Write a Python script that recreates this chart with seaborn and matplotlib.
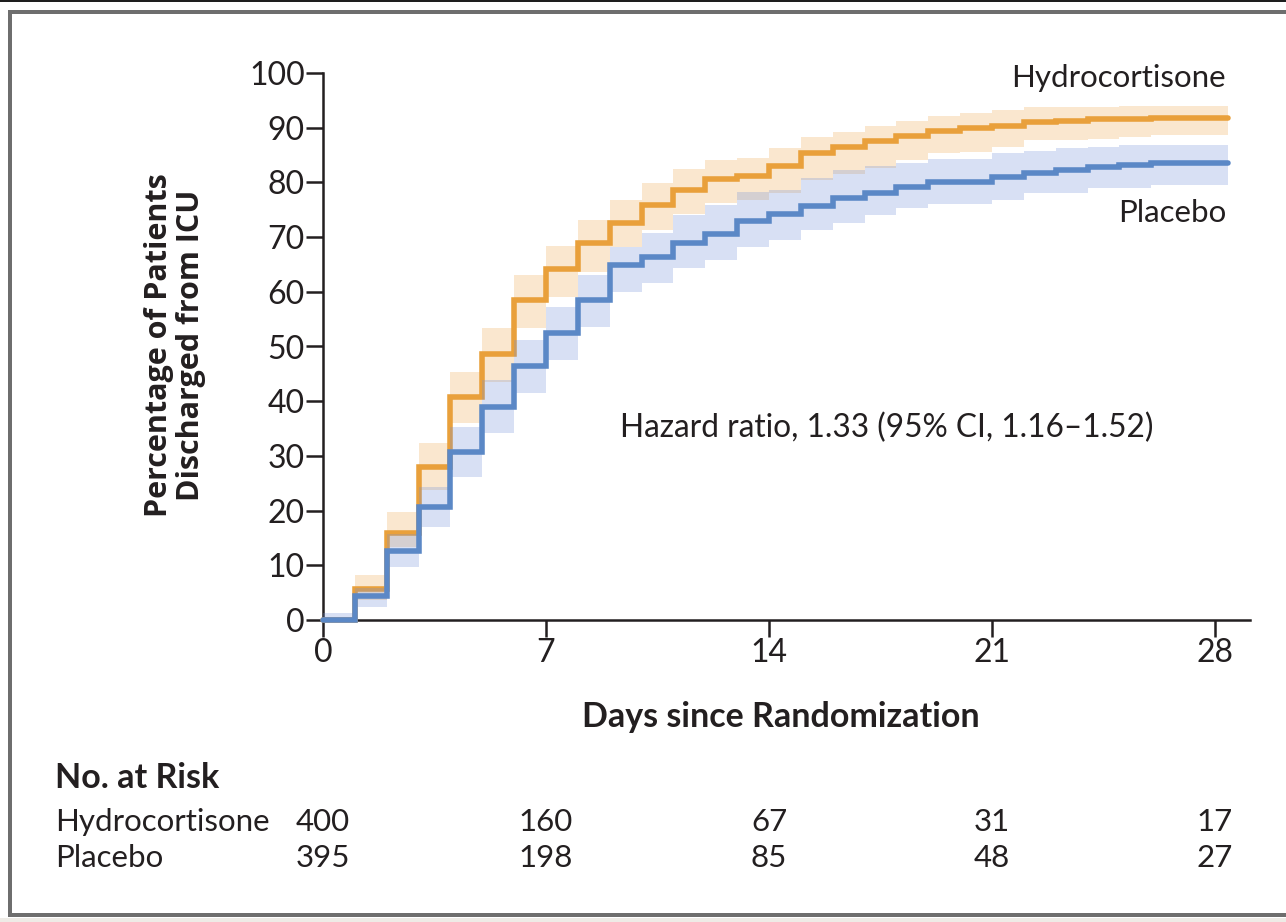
import numpy as np
import pandas as pd
import matplotlib
matplotlib.use("Agg")
import matplotlib.pyplot as plt
from matplotlib.patches import Rectangle
from matplotlib.transforms import blended_transform_factory
import seaborn as sns

# Cumulative percentage discharged from ICU, value held on [day, day + 1)
days = list(range(29))
hydro_pct = [0.0, 5.7, 15.9, 28.0, 40.8, 48.6, 58.5, 64.2, 68.9, 72.6,
             75.9, 78.7, 80.6, 81.1, 83.0, 85.3, 86.5, 87.6, 88.5, 89.4,
             89.9, 90.3, 91.0, 91.3, 91.5, 91.5, 91.7, 91.7, 91.7]
hydro_lo = [0.0, 3.6, 13.4, 23.8, 36.0, 43.5, 53.4, 59.1, 63.6, 68.2,
            71.3, 74.2, 76.2, 76.8, 78.0, 80.5, 81.5, 82.6, 84.1, 85.3,
            85.6, 86.5, 87.7, 87.7, 88.0, 88.3, 88.6, 88.6, 88.6]
hydro_hi = [0.5, 8.2, 19.7, 32.4, 45.3, 53.4, 63.1, 68.4, 73.1, 76.8,
            79.9, 82.4, 84.1, 84.5, 86.3, 88.3, 89.2, 90.3, 91.3, 92.1,
            92.6, 93.3, 93.7, 93.7, 93.7, 94.0, 94.0, 94.0, 94.0]

placebo_pct = [0.0, 4.3, 12.6, 20.7, 30.7, 39.0, 46.5, 52.4, 58.5, 64.9,
               66.4, 68.9, 70.6, 73.0, 74.3, 75.7, 77.1, 78.1, 79.2, 80.1,
               80.1, 81.0, 81.7, 82.3, 82.9, 83.2, 83.5, 83.5, 83.5]
placebo_lo = [0.0, 2.4, 9.7, 17.0, 26.1, 34.2, 41.5, 47.5, 53.6, 60.0,
              61.6, 64.3, 65.8, 68.2, 69.5, 71.3, 72.6, 74.0, 75.3, 76.0,
              76.0, 76.8, 78.1, 78.1, 79.0, 79.0, 79.5, 79.5, 79.5]
placebo_hi = [1.2, 5.8, 15.7, 24.3, 35.3, 43.9, 51.2, 57.2, 63.1, 68.2,
              70.7, 74.0, 75.9, 78.2, 78.6, 80.8, 82.3, 83.0, 83.6, 84.3,
              84.3, 85.3, 85.8, 86.2, 86.5, 86.8, 86.8, 86.8, 86.8]

last_day = 28.4  # follow-up end of the curves

x_ticks = [0, 7, 14, 21, 28]
y_ticks = list(range(0, 101, 10))

risk_days = [0, 7, 14, 21, 28]
risk_hydro = [400, 160, 67, 31, 17]
risk_placebo = [395, 198, 85, 48, 27]

ORANGE = "#E9A03B"
BLUE = "#5B88C6"
ORANGE_FILL = "#F0B060"
BLUE_FILL = "#7090D8"
INK = "#231F20"

sns.set_theme(style="white")
plt.rcParams["font.family"] = ["Lato", "DejaVu Sans"]
plt.rcParams["text.color"] = INK

W, H = 1286, 922
fig = plt.figure(figsize=(W / 100, H / 100), dpi=100)
fig.patch.set_facecolor("white")


def fx(px):
    return px / W


def fy(py):
    return 1 - py / H


ax_left, ax_right, ax_top, ax_bottom = 323, 1250, 73, 620
ax = fig.add_axes([fx(ax_left), fy(ax_bottom), fx(ax_right - ax_left), (ax_bottom - ax_top) / H])
ax.set_facecolor("none")


def series_frame(pct, lo, hi):
    x = days + [last_day]
    return pd.DataFrame({
        "day": x,
        "pct": pct + [pct[-1]],
        "lo": lo + [lo[-1]],
        "hi": hi + [hi[-1]],
    })


hydro = series_frame(hydro_pct, hydro_lo, hydro_hi)
placebo = series_frame(placebo_pct, placebo_lo, placebo_hi)

# Hydrocortisone: band and curve
ax.fill_between(hydro["day"], hydro["lo"], hydro["hi"], step="post",
                color=ORANGE_FILL, alpha=0.30, linewidth=0, zorder=1)
sns.lineplot(data=hydro, x="day", y="pct", ax=ax, color=ORANGE, linewidth=4.0,
             drawstyle="steps-post", estimator=None, sort=False, zorder=2,
             clip_on=False, solid_joinstyle="miter")
# Placebo: band and curve
ax.fill_between(placebo["day"], placebo["lo"], placebo["hi"], step="post",
                color=BLUE_FILL, alpha=0.27, linewidth=0, zorder=3)
sns.lineplot(data=placebo, x="day", y="pct", ax=ax, color=BLUE, linewidth=4.0,
             drawstyle="steps-post", estimator=None, sort=False, zorder=4,
             clip_on=False, solid_joinstyle="miter")

ax.set_xlim(0, (ax_right - ax_left) / ((1215 - 323) / 28))
ax.set_ylim(0, 100)
ax.set_xticks(x_ticks)
ax.set_yticks(y_ticks)
ax.set_xlabel("")
ax.set_ylabel("")
sns.despine(ax=ax)
for side in ("left", "bottom"):
    ax.spines[side].set_color(INK)
    ax.spines[side].set_linewidth(1.8)
    ax.spines[side].set_zorder(0)
ax.tick_params(axis="both", which="major", direction="out", length=12, width=1.8,
               color=INK, labelsize=23, labelcolor=INK, pad=1,
               left=True, bottom=True)
ax.grid(False)

# Axis titles
fig.text(fx(781), fy(717), "Days since Randomization", ha="center", va="center",
         fontsize=24.5, fontweight="bold")
fig.text(fx(175), fy(345), "Percentage of Patients\nDischarged from ICU",
         ha="center", va="center", rotation=90, fontsize=22, fontweight="bold",
         linespacing=1.05, family=["Open Sans", "DejaVu Sans"])

# Series labels and hazard ratio
fig.text(fx(1226), fy(78), "Hydrocortisone", ha="right", va="center", fontsize=22.5)
fig.text(fx(1226), fy(213), "Placebo", ha="right", va="center", fontsize=22.5)
fig.text(fx(620), fy(428), "Hazard ratio, 1.33 (95% CI, 1.16\u20131.52)",
         ha="left", va="center", fontsize=22.8)

# Number at risk table
fig.text(fx(55), fy(778), "No. at Risk", ha="left", va="center", fontsize=24.5,
         fontweight="bold")
fig.text(fx(55), fy(822), "Hydrocortisone", ha="left", va="center", fontsize=22.5)
fig.text(fx(55), fy(858), "Placebo", ha="left", va="center", fontsize=22.5)
trans = blended_transform_factory(ax.transData, fig.transFigure)
for d, a, b in zip(risk_days, risk_hydro, risk_placebo):
    fig.text(d, fy(822), str(a), ha="center", va="center", fontsize=22.5, transform=trans)
    fig.text(d, fy(858), str(b), ha="center", va="center", fontsize=22.5, transform=trans)

# Panel frame
frame_grey = "#6E6E6E"
fig.add_artist(Rectangle((0, fy(2.5)), 1, 2.5 / H, transform=fig.transFigure,
                         facecolor="#1E1E1E", edgecolor="none"))
fig.add_artist(Rectangle((0, fy(922)), 1, 4 / H, transform=fig.transFigure,
                         facecolor="#EEEBE6", edgecolor="none"))
fig.add_artist(Rectangle((fx(8), fy(917)), 4 / W, (917 - 10) / H, transform=fig.transFigure,
                         facecolor=frame_grey, edgecolor="none"))
fig.add_artist(Rectangle((fx(8), fy(14)), 1, 4 / H, transform=fig.transFigure,
                         facecolor=frame_grey, edgecolor="none"))
fig.add_artist(Rectangle((fx(8), fy(917)), 1, 4 / H, transform=fig.transFigure,
                         facecolor=frame_grey, edgecolor="none"))

fig.savefig("out.png", dpi=100)
